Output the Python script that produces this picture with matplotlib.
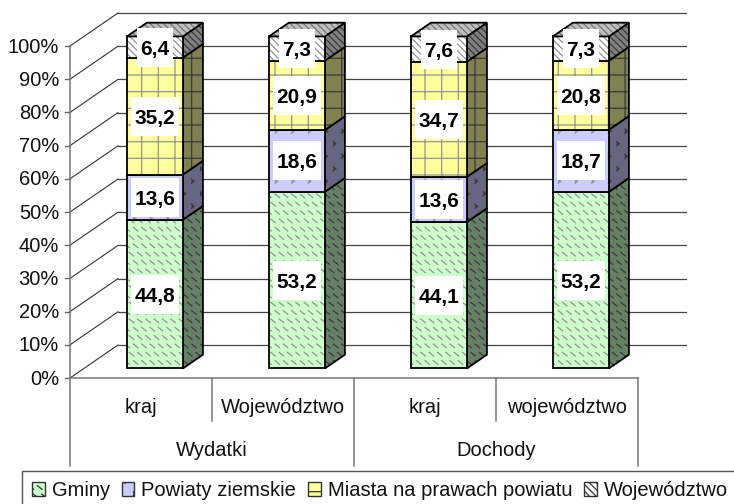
import warnings
import numpy as np
import matplotlib
matplotlib.use('Agg')
import matplotlib.pyplot as plt
import matplotlib.hatch as mhatch
from matplotlib.patches import Patch, Polygon, Rectangle
from matplotlib.path import Path
from matplotlib.transforms import IdentityTransform
warnings.filterwarnings('ignore')

plt.rcParams['font.family'] = ['Liberation Sans', 'DejaVu Sans']
plt.rcParams['hatch.linewidth'] = 0.9

# data
categories = ['kraj', 'Województwo', 'kraj', 'województwo']
groups = ['Wydatki', 'Dochody']
series = ['Gminy', 'Powiaty ziemskie', 'Miasta na prawach powiatu', 'Województwo']
gminy = [44.8, 53.2, 44.1, 53.2]
powiaty = [13.6, 18.6, 13.6, 18.7]
miasta = [35.2, 20.9, 34.7, 20.8]
wojewodztwo = [6.4, 7.3, 7.6, 7.3]
values = [gminy, powiaty, miasta, wojewodztwo]

front = ['#CCFFCC', '#CCCCFF', '#FFFF99', '#FFFFFF']
side = ['#668066', '#666680', '#808050', '#808080']
top = ['#A6CFA6', '#A6A6CF', '#CFCF7C', '#BFBFBF']
hatches = ['g', 'p', '+', '\\\\\\\\\\']
hatch_color = '#949494'


# Excel style patterns that matplotlib does not have: rows of short dashes and small chevrons
class DashRows(mhatch.HatchPatternBase):
    def __init__(self, hatch, density):
        self.num_vertices = 2 * 12 * 12 if 'g' in hatch else 0

    def set_vertices_and_codes(self, vertices, codes):
        k = 0
        for r in range(12):
            for c in range(12):
                x = (c + 0.5 * (r % 2)) / 12
                y = (r + 0.5) / 12
                vertices[k:k + 2] = [(x, y + 0.018), (x + 0.045, y - 0.018)]
                codes[k:k + 2] = [Path.MOVETO, Path.LINETO]
                k += 2


class Chevrons(mhatch.HatchPatternBase):
    def __init__(self, hatch, density):
        self.num_vertices = 3 * 6 * 8 if 'p' in hatch else 0

    def set_vertices_and_codes(self, vertices, codes):
        k = 0
        for r in range(8):
            for c in range(6):
                x = (c + 0.5 * (r % 2)) / 6
                y = (r + 0.5) / 8
                vertices[k:k + 3] = [(x, y + 0.02), (x + 0.025, y), (x, y - 0.02)]
                codes[k:k + 3] = [Path.MOVETO, Path.LINETO, Path.LINETO]
                k += 3


mhatch._hatch_types.extend([DashRows, Chevrons])

W, H = 734, 504
fig = plt.figure(figsize=(W / 100, H / 100), dpi=100, facecolor='white')
ax = fig.add_axes([70 / W, 1 - 378 / H, 568 / W, 332 / H])
ax.set_xlim(-0.5, 3.5)
ax.set_ylim(0, 100)
ax.axis('off')

# depth of the 3d box, in data units
depth_x = 48 / 142
depth_y = 33 / 3.32
bar_width = 56 / 142
shift = 0.29
bar_depth = 20 / 48

# back wall and left wall lines
for t in range(0, 101, 10):
    ax.plot([-0.5, -0.5 + depth_x], [t, t + depth_y], color='#333333', lw=0.8, clip_on=False, zorder=1)
    ax.plot([-0.5 + depth_x, 3.5 + depth_x], [t + depth_y, t + depth_y], color='#444444', lw=0.9, clip_on=False, zorder=1)
    ax.plot([-0.5 - 5 / 142, -0.5], [t, t], color='#666666', lw=1, clip_on=False, zorder=1)
    ax.text(-0.5 - 11 / 142, t + 0.3, f'{t}%', ha='right', va='center_baseline', fontsize=14.5, color='#111111')

ax.plot([-0.5, -0.5], [0, 100], color='#777777', lw=1.1, clip_on=False, zorder=1)
ax.plot([-0.5, 3.5], [0, 0], color='#777777', lw=1.1, clip_on=False, zorder=1)

# category axis dividers
for x, low in zip([-0.5, 0.5, 1.5, 2.5, 3.5], [-26.5, -13, -26.5, -13, -26.5]):
    ax.plot([x, x], [0, low], color='#777777', lw=1.1, clip_on=False, zorder=1)

for i, name in enumerate(categories):
    ax.text(i, -8.2, name, ha='center', va='center_baseline', fontsize=14.5, color='#111111')
for i, name in enumerate(groups):
    ax.text(0.5 + 2 * i, -21.1, name, ha='center', va='center_baseline', fontsize=14.5, color='#111111')

# stacked 3d bars
dx = depth_x * bar_depth
dy = depth_y * bar_depth
base = depth_y * shift
labels = []
for i in range(len(categories)):
    x0 = i + depth_x * shift - bar_width / 2
    x1 = x0 + bar_width
    bottom = base
    for s in range(len(series)):
        v = values[s][i]
        y0, y1 = bottom, bottom + v
        z = 3 + s * 0.1
        ax.add_patch(Polygon([(x1, y0), (x1 + dx, y0 + dy), (x1 + dx, y1 + dy), (x1, y1)], closed=True,
                             facecolor=side[s], edgecolor='#3A3A3A', hatch=hatches[s], lw=0, clip_on=False, zorder=z))
        ax.add_patch(Polygon([(x1, y0), (x1 + dx, y0 + dy), (x1 + dx, y1 + dy), (x1, y1)], closed=True,
                             fill=False, edgecolor='black', lw=1.3, clip_on=False, zorder=z))
        ax.bar(x0, v, bar_width, y0, align='edge', color=front[s], edgecolor=hatch_color, hatch=hatches[s], lw=0,
               clip_on=False, zorder=z)
        ax.bar(x0, v, bar_width, y0, align='edge', fill=False, edgecolor='black', lw=1.3, clip_on=False, zorder=z)
        if s == len(series) - 1:
            ax.add_patch(Polygon([(x0, y1), (x1, y1), (x1 + dx, y1 + dy), (x0 + dx, y1 + dy)], closed=True,
                                 facecolor=top[s], edgecolor='#777777', hatch=hatches[s], lw=0, clip_on=False, zorder=z))
            ax.add_patch(Polygon([(x0, y1), (x1, y1), (x1 + dx, y1 + dy), (x0 + dx, y1 + dy)], closed=True,
                                 fill=False, edgecolor='black', lw=1.3, clip_on=False, zorder=z))
        labels.append(ax.text((x0 + x1) / 2, (y0 + y1) / 2, f'{values[s][i]:.1f}'.replace('.', ','),
                              ha='center', va='center_baseline', fontsize=15, fontweight='bold', color='black', zorder=6))
        bottom = y1

# white boxes behind the value labels, tall like the original
fig.canvas.draw()
renderer = fig.canvas.get_renderer()
for t in labels:
    bb = t.get_window_extent(renderer)
    cy = ax.transData.transform(t.get_position())[1]
    ax.add_patch(Rectangle((bb.x0 - 3.5, cy - 19.5), bb.width + 7, 39, transform=IdentityTransform(),
                           facecolor='white', edgecolor='none', clip_on=False, zorder=5))

# legend runs off the bottom and right edge of the picture
handles = [Patch(facecolor=front[s], edgecolor='#333333', hatch=hatches[s], lw=1) for s in range(len(series))]
leg = fig.legend(handles, series, ncol=4, loc='upper left', bbox_to_anchor=(22 / W, 1 - 471 / H),
                 bbox_transform=fig.transFigure, fontsize=14.5, frameon=True, fancybox=False, framealpha=1,
                 edgecolor='#555555', borderaxespad=0, borderpad=0.5, handlelength=0.62, handleheight=0.62,
                 handletextpad=0.35, columnspacing=0.6, labelcolor='#111111')
leg.get_frame().set_linewidth(1)

fig.savefig('out.png', dpi=100, facecolor='white')
